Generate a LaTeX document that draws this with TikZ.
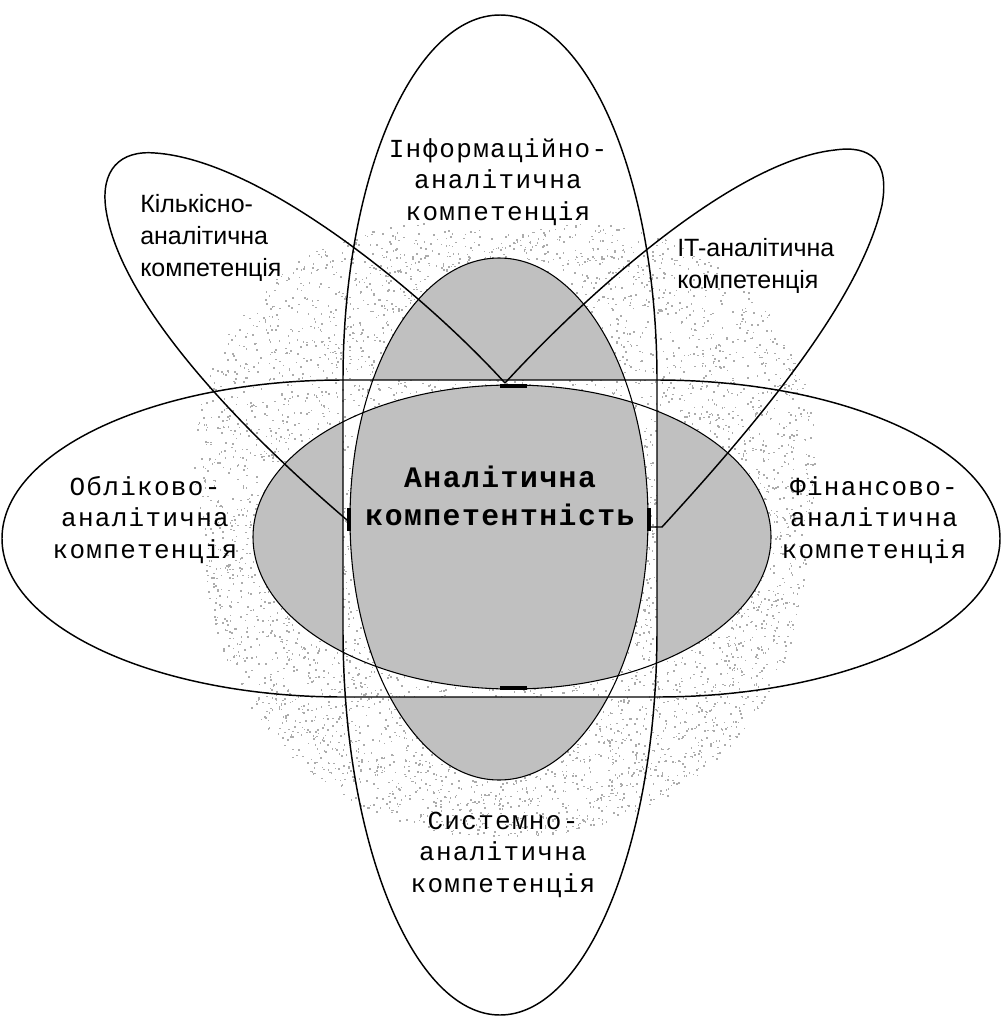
\documentclass[tikz,border=0pt]{standalone}
\usepackage{fontspec}
\usepackage{tikz}
\newfontfamily\courfont[LetterSpace=5]{Liberation Mono}
\newfontfamily\arialfont{Liberation Sans}
\definecolor{greyshade}{RGB}{192,192,192}
\definecolor{specklegrey}{RGB}{172,172,172}

% outline paths (pixel coordinates)
\newcommand{\outerVert}{(500,15) .. controls (586.7,15) and (657,178.4) .. (657,380) -- (657,630) .. controls (657,842.6) and (586.7,1015) .. (500,1015) .. controls (413.3,1015) and (343,842.6) .. (343,630) -- (343,380) .. controls (343,178.4) and (413.3,15) .. (500,15) -- cycle}
\newcommand{\outerHor}{(2,538.5) .. controls (2,451) and (154.7,380) .. (343,380) -- (657,380) .. controls (846.4,380) and (1000,451) .. (1000,538.5) .. controls (1000,626) and (846.4,697) .. (657,697) -- (343,697) .. controls (154.7,697) and (2,626) .. (2,538.5) -- cycle}
\newcommand{\greyHor}{(253,537) .. controls (253,453.05) and (369,385) .. (512,385) .. controls (655,385) and (771,453.05) .. (771,537) .. controls (771,620.95) and (655,689) .. (512,689) .. controls (369,689) and (253,620.95) .. (253,537) -- cycle}
\newcommand{\greyVert}{(350,519) .. controls (350,374.85) and (416.7,258) .. (499,258) .. controls (581.3,258) and (648,374.85) .. (648,519) .. controls (648,663.15) and (581.3,780) .. (499,780) .. controls (416.7,780) and (350,663.15) .. (350,519) -- cycle}

\begin{document}
\begin{tikzpicture}[x=0.75pt,y=0.75pt,yscale=-1,xscale=1,
    outline/.style={draw=black, line width=1.1pt},
    greyline/.style={draw=black, line width=0.8pt},
    speck/.style={fill=specklegrey},
    cutbar/.style={draw=black, line width=2.4pt},
    monolbl/.style={font=\courfont\fontsize{19.5}{23.6}\selectfont, align=center, inner sep=0pt, anchor=base},
    sanslbl/.style={font=\arialfont\fontsize{18.75}{24}\selectfont, align=left, inner sep=0pt, anchor=base west},
    mainlbl/.style={font=\courfont\bfseries\fontsize{22.3}{28.5}\selectfont, align=center, inner sep=0pt, anchor=base}]
\useasboundingbox (0,0) rectangle (1001,1021);

%Speckled shadow [id:dp1]
\pgfmathsetseed{42}
\begin{scope}[shift={(505,535)}]
\foreach \i in {1,...,6500}{
  \pgfmathsetmacro{\ang}{360*rnd}
  \pgfmathsetmacro{\rmax}{3+ifthenelse(sin(\ang)<0,0.45,0.08)*abs(sin(2*\ang))}
  \pgfmathsetmacro{\rad}{100*sqrt(1+rnd*(\rmax*\rmax-1))}
  \fill[speck] (\ang:\rad) rectangle ++(1.6,1.6);
}
\end{scope}

%Shape: Grey core, both ellipses [id:dp2]
\begin{scope}
  \clip \greyHor;
  \fill[greyshade] \greyVert;
  \fill[greyshade, even odd rule] (0,0) rectangle (1001,1021) \outerVert;
\end{scope}
\begin{scope}
  \clip \greyVert;
  \fill[greyshade, even odd rule] (0,0) rectangle (1001,1021) \outerHor;
\end{scope}
\draw[greyline] \greyHor;
\draw[greyline] \greyVert;

%Shape: Ellipse [id:dp3]
\draw[outline] \outerHor;
%Shape: Ellipse [id:dp4]
\draw[outline] \outerVert;

%Curve Lines [id:da5]
\draw[outline] (347,520) .. controls (230,420) and (120,300) .. (106,210) .. controls (100,170) and (120,150) .. (155,153) .. controls (260,160) and (420,290) .. (505,383);
%Curve Lines [id:da6]
\draw[outline] (650,527) -- (662,527) .. controls (760,420) and (860,300) .. (882,205) .. controls (890,160) and (870,145) .. (835,150) .. controls (740,160) and (600,280) .. (505,383);

%Straight Lines [id:da7]
\draw[cutbar] (349,508) -- (349,531);
\draw[cutbar] (649,508) -- (649,531);
\draw[cutbar] (500,386) -- (527,386);
\draw[cutbar] (500,688) -- (527,688);

% labels (anchored at the baseline of the last line)
\node[monolbl] (infolbl) at (498,220) {Інформаційно-\\аналітична\\компетенція};
\node[sanslbl] (kilklbl) at (140,276) {Кількісно-\\аналітична\\компетенція};
\node[sanslbl] (itlbl) at (677,288) {IT-аналітична\\компетенція};
\node[monolbl] (oblklbl) at (145,558) {Обліково-\\аналітична\\компетенція};
\node[monolbl] (finlbl) at (874,558) {Фінансово-\\аналітична\\компетенція};
\node[monolbl] (systlbl) at (503,892) {Системно-\\аналітична\\компетенція};
\node[mainlbl] (corelbl) at (500,525) {Аналітична\\компетентність};
\end{tikzpicture}
\end{document}
